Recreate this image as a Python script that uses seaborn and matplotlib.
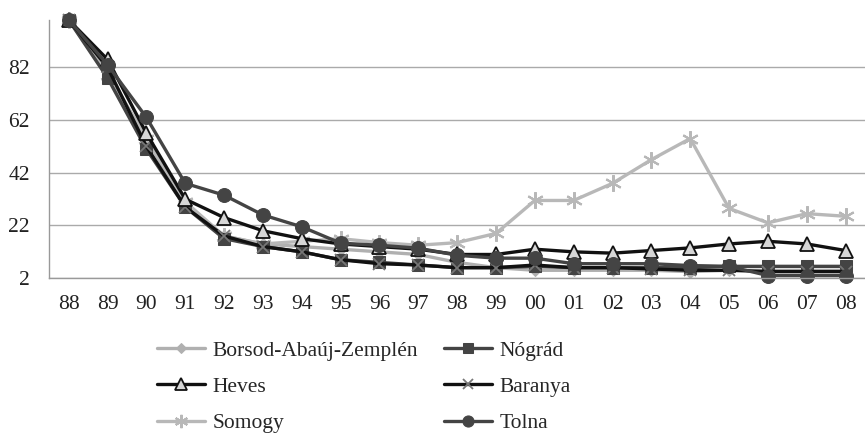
"""Line chart of six counties, index 1988 = 100."""

import matplotlib
matplotlib.use("Agg")
import matplotlib.pyplot as plt
import pandas as pd
import seaborn as sns

years = ["88", "89", "90", "91", "92", "93", "94", "95", "96", "97", "98",
         "99", "00", "01", "02", "03", "04", "05", "06", "07", "08"]

borsod = [100, 80, 55, 30, 18, 15, 14, 13, 12, 11, 8,
          6, 5, 5, 5, 5, 4.5, 5, 5, 5, 5]
nograd = [100, 78, 51, 29, 17, 14, 12, 9, 8, 7, 6,
          6, 6.5, 6, 6, 6, 6, 6.5, 6.5, 6.5, 6.5]
heves = [100, 85, 57, 32, 25, 20, 17, 15, 14, 13, 11,
         11, 13, 12, 11.5, 12.5, 13.5, 15, 16, 15, 12.5]
baranya = [100, 82, 52, 29, 18, 14, 12, 9, 7.5, 7, 6,
           6, 7, 6, 6, 5.5, 5, 5, 4.5, 4.5, 4.5]
somogy = [100, 79, 55, 31, 18, 15, 16, 17, 15.5, 14.5, 15.5,
          19, 31.5, 31.5, 38, 47, 55, 28.5, 23, 26.5, 25.5]
tolna = [100, 83, 63, 38, 33.5, 26, 21.5, 15.3, 14.5, 13.4, 10.7,
         9.6, 9.6, 7.5, 7.5, 7.5, 6.8, 6.5, 3, 3, 3]

series = {
    "Borsod-Abaúj-Zemplén": borsod,
    "Heves": heves,
    "Somogy": somogy,
    "Nógrád": nograd,
    "Baranya": baranya,
    "Tolna": tolna,
}

styles = {
    "Borsod-Abaúj-Zemplén": dict(color="#b0b0b0", marker="D", markersize=6,
                                 markerfacecolor="#b0b0b0", markeredgecolor="#b0b0b0"),
    "Nógrád": dict(color="#444444", marker="s", markersize=8.5,
                   markerfacecolor="#444444", markeredgecolor="#444444"),
    "Heves": dict(color="#111111", marker="^", markersize=10,
                  markerfacecolor="#d6d6d6", markeredgecolor="#111111",
                  markeredgewidth=1.3),
    "Baranya": dict(color="#111111", marker="x", markersize=9,
                    markeredgecolor="#777777", markeredgewidth=1.3),
    "Somogy": dict(color="#b8b8b8", marker=(6, 2, 0), markersize=12,
                   markeredgecolor="#b8b8b8", markeredgewidth=1.5),
    "Tolna": dict(color="#444444", marker="o", markersize=10,
                  markerfacecolor="#444444", markeredgecolor="#444444"),
}

draw_order = ["Borsod-Abaúj-Zemplén", "Somogy", "Nógrád", "Baranya", "Heves", "Tolna"]

frames = []
for name, vals in series.items():
    frames.append(pd.DataFrame({"pos": range(len(years)), "value": vals, "county": name}))
data = pd.concat(frames, ignore_index=True)

sns.set_style("white")
plt.rcParams["font.family"] = "serif"
plt.rcParams["font.serif"] = ["Liberation Serif", "DejaVu Serif"]

fig = plt.figure(figsize=(8.65, 4.34), dpi=100)
ax = fig.add_axes([0.057, 0.359, 0.943, 0.595])

handles = {}
for name in draw_order:
    sub = data[data["county"] == name]
    sns.lineplot(data=sub, x="pos", y="value", ax=ax, linewidth=2.4,
                 sort=False, clip_on=False, legend=False, **styles[name])
    handles[name] = ax.lines[-1]

ax.set_xlim(-0.5, len(years) - 0.5)
ax.set_ylim(2, 100)
ax.set_yticks([2, 22, 42, 62, 82])
ax.set_xticks(range(len(years)))
ax.set_xticklabels(years)
ax.set_xticks([i - 0.5 for i in range(len(years) + 1)], minor=True)
ax.tick_params(axis="x", which="major", length=0, pad=12, labelsize=15.5, colors="#222222")
ax.tick_params(axis="x", which="minor", length=7, width=1, color="#999999", direction="out")
ax.tick_params(axis="y", length=8, width=1, color="#999999", direction="out",
               pad=6, labelsize=15.5, colors="#222222")
ax.set_xlabel("")
ax.set_ylabel("")

ax.grid(axis="y", color="#aaaaaa", linewidth=1)
ax.set_axisbelow(True)
for side in ["top", "right"]:
    ax.spines[side].set_visible(False)
for side in ["left", "bottom"]:
    ax.spines[side].set_color("#999999")
    ax.spines[side].set_linewidth(1)

legend_order = ["Borsod-Abaúj-Zemplén", "Heves", "Somogy", "Nógrád", "Baranya", "Tolna"]
fig.legend([handles[n] for n in legend_order], legend_order, ncol=2,
           loc="upper left", bbox_to_anchor=(0.172, 0.235), frameon=False,
           fontsize=15.5, handlelength=2.2, handletextpad=0.38, markerscale=0.8,
           columnspacing=1.2, labelspacing=0.75, borderaxespad=0)

fig.savefig("out.png", dpi=100)
